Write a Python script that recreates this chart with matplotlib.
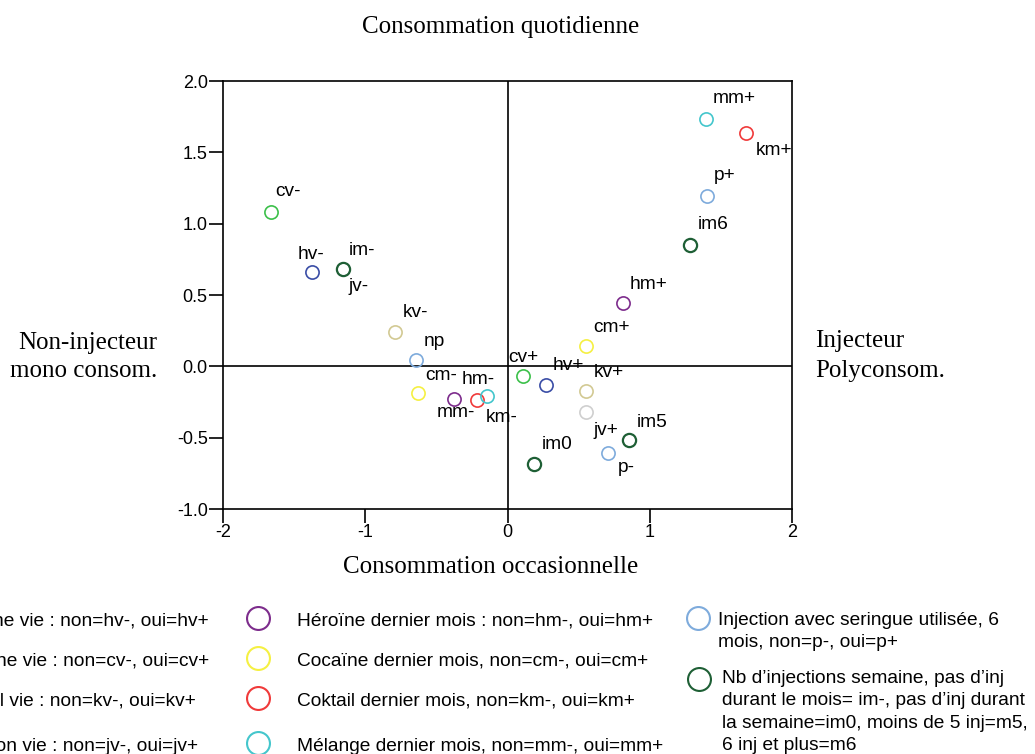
import matplotlib.pyplot as plt
import numpy as np

plt.rcParams["font.family"] = ["Liberation Sans", "DejaVu Sans"]

_serif = ["Liberation Serif", "DejaVu Serif"]

# modalities of the factorial map
labels = ["cv-", "hv-", "jv-", "im-", "kv-", "np", "cm-", "hm-", "km-", "mm-",
          "cv+", "hv+", "cm+", "kv+", "jv+", "im5", "p-", "im0", "hm+",
          "mm+", "km+", "p+", "im6"]
x_vals = [-1.665, -1.377, -1.159, -1.159, -0.791, -0.641, -0.627, -0.376, -0.217, -0.142,
          0.111, 0.269, 0.552, 0.550, 0.552, 0.857, 0.705, 0.188, 0.810,
          1.396, 1.677, 1.403, 1.283]
y_vals = [1.081, 0.661, 0.682, 0.682, 0.243, 0.047, -0.187, -0.229, -0.233, -0.210,
          -0.070, -0.131, 0.140, -0.175, -0.320, -0.519, -0.605, -0.682, 0.446,
          1.731, 1.633, 1.191, 0.853]
groups = ["cv", "hv", "jv", "im", "kv", "p", "cm", "hm", "km", "mm",
          "cv", "hv", "cm", "kv", "jv", "im", "p", "im", "hm",
          "mm", "km", "p", "im"]

_colors = {
    "hv": "#3A4DA6",
    "cv": "#3CC04A",
    "kv": "#D2C993",
    "jv": "#CFCFCF",
    "hm": "#7D2C8C",
    "cm": "#F5F042",
    "km": "#F03A3A",
    "mm": "#44C6CC",
    "p": "#7EABDC",
    "im": "#1E5F35",
}

# label offsets in pixels (dx right, dy down) to the text baseline
label_offsets = [(5, -16), (-14, -13), (6, 22), (6, -14), (8, -15), (7, -14), (7, -13),
                 (8, -15), (9, 22), (-51, 21), (-15, -14), (7, -15), (7, -14), (8, -14),
                 (7, 23), (7, -13), (10, 19), (8, -15), (7, -14), (7, -16), (10, 22),
                 (7, -16), (8, -16)]

legend_col1 = ["Héroïne vie : non=hv-, oui=hv+", "Cocaïne vie : non=cv-, oui=cv+",
               "Coktail vie : non=kv-, oui=kv+", "Injection vie : non=jv-, oui=jv+"]
legend_col1_groups = ["hv", "cv", "kv", "jv"]
legend_col2 = ["Héroïne dernier mois : non=hm-, oui=hm+", "Cocaïne dernier mois, non=cm-, oui=cm+",
               "Coktail dernier mois, non=km-, oui=km+", "Mélange dernier mois, non=mm-, oui=mm+"]
legend_col2_groups = ["hm", "cm", "km", "mm"]
legend_col3 = [["Injection avec seringue utilisée, 6", "mois, non=p-, oui=p+"],
               ["Nb d\u2019injections semaine, pas d\u2019inj", "durant le mois= im-, pas d\u2019inj durant",
                "la semaine=im0, moins de 5 inj=m5,", "6 inj et plus=m6"]]
legend_col3_groups = ["p", "im"]

W, H = 1035, 754
fig = plt.figure(figsize=(W / 100, H / 100), dpi=100)
ax = fig.add_axes([223 / W, (H - 509) / H, (792 - 223) / W, (509 - 81) / H])

for i in range(len(labels)):
    c = _colors[groups[i]]
    lw = 1.6 if groups[i] == "im" else 1.2
    ax.plot(x_vals[i], y_vals[i], "o", markersize=9.5, markerfacecolor="none",
            markeredgecolor=c, markeredgewidth=lw, zorder=3)
    ax.annotate(labels[i], (x_vals[i], y_vals[i]),
                xytext=(label_offsets[i][0], -label_offsets[i][1]),
                textcoords="offset pixels", ha="left", va="baseline",
                fontsize=13.8, color="black", zorder=4)

ax.axhline(0, color="black", linewidth=1.2, zorder=1)
ax.axvline(0, color="black", linewidth=1.2, zorder=1)
ax.set_xlim(-2, 2)
ax.set_ylim(-1, 2)
ax.set_xticks([-2, -1, 0, 1, 2])
ax.set_xticklabels(["-2", "-1", "0", "1", "2"])
ax.set_yticks([-1.0, -0.5, 0.0, 0.5, 1.0, 1.5, 2.0])
ax.set_yticklabels(["-1.0", "-0.5", "0.0", "0.5", "1.0", "1.5", "2.0"])
ax.tick_params(direction="out", length=10, width=1.2, labelsize=13, pad=1)
for s in ax.spines.values():
    s.set_linewidth(1.2)

# overlay in pixel coordinates for titles and the hand-made legend
ov = fig.add_axes([0, 0, 1, 1])
ov.set_xlim(0, W)
ov.set_ylim(H, 0)
ov.axis("off")

ov.text(501, 33, "Consommation quotidienne", ha="center", va="baseline",
        fontsize=18, family=_serif)
ov.text(491, 573, "Consommation occasionnelle", ha="center", va="baseline",
        fontsize=18, family=_serif)
ov.text(157, 349, "Non-injecteur", ha="right", va="baseline", fontsize=18, family=_serif)
ov.text(157, 377, "mono consom.", ha="right", va="baseline", fontsize=18, family=_serif)
ov.text(815, 347, "Injecteur", ha="left", va="baseline", fontsize=18, family=_serif)
ov.text(815, 377, "Polyconsom.", ha="left", va="baseline", fontsize=18, family=_serif)

# legend: first column runs off the left edge, as in the source figure
row_marker_y = [618, 658, 698, 743]
row_text_y = [626, 665, 705, 751]
for j in range(4):
    ov.plot(-93, row_marker_y[j], "o", markersize=16.5, markerfacecolor="none",
            markeredgecolor=_colors[legend_col1_groups[j]], markeredgewidth=1.5, clip_on=False)
    ov.text(-54, row_text_y[j], legend_col1[j], ha="left", va="baseline", fontsize=13.8)
    ov.plot(258, row_marker_y[j], "o", markersize=16.5, markerfacecolor="none",
            markeredgecolor=_colors[legend_col2_groups[j]], markeredgewidth=1.5)
    ov.text(297, row_text_y[j], legend_col2[j], ha="left", va="baseline", fontsize=13.8)

col3_marker = [(698, 618), (699, 679)]
col3_text = [(718, 625), (722, 683)]
for j in range(2):
    ov.plot(col3_marker[j][0], col3_marker[j][1], "o", markersize=16.5, markerfacecolor="none",
            markeredgecolor=_colors[legend_col3_groups[j]], markeredgewidth=1.5)
    for k, line in enumerate(legend_col3[j]):
        ov.text(col3_text[j][0], col3_text[j][1] + k * 22.3, line, ha="left",
                va="baseline", fontsize=13.8)

fig.savefig("out.png", dpi=100)
